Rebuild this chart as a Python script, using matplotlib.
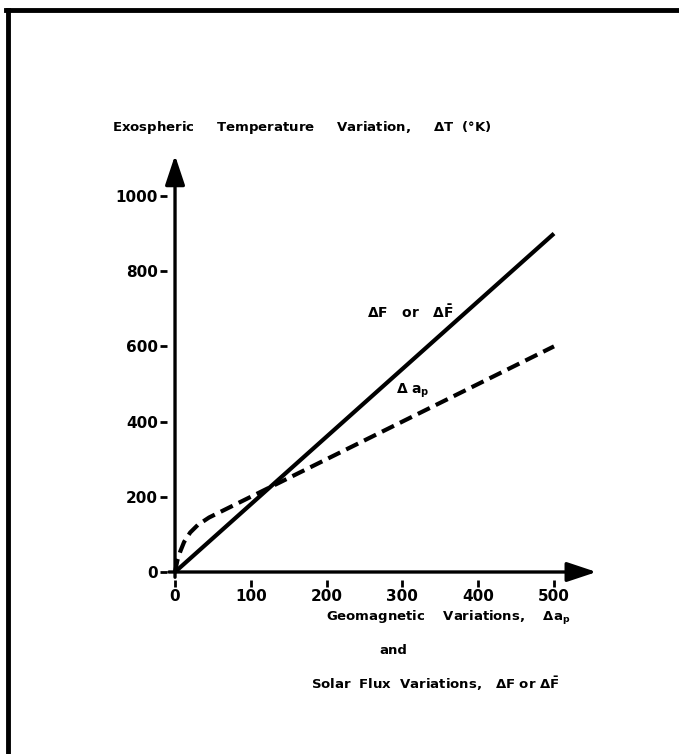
import matplotlib
matplotlib.use('Agg')
import matplotlib.pyplot as plt
from matplotlib.lines import Line2D

plt.rcParams['mathtext.fontset'] = 'dejavusans'

# solar flux curve (Delta F or Delta F-bar)
flux_x = [0, 500]
flux_y = [0, 900]

# geomagnetic curve (Delta a_p)
geo_x = [0, 3, 7, 12, 20, 30, 45, 70, 100, 200, 300, 400, 500]
geo_y = [0, 30, 55, 80, 105, 125, 145, 170, 200, 300, 400, 500, 600]

xticks = [0, 100, 200, 300, 400, 500]
yticks = [0, 200, 400, 600, 800, 1000]

fig = plt.figure(figsize=(6.79, 7.54), dpi=100)
ax = fig.add_axes([0.2466, 0.2314, 0.6363, 0.5636])
ax.set_xlim(-10, 560)
ax.set_ylim(-20, 1110)

for s in ax.spines.values():
    s.set_visible(False)

# axes drawn as arrows
arr = dict(arrowstyle='-|>,head_length=0.9,head_width=0.3', lw=2.4, color='black',
           mutation_scale=20, shrinkA=0, shrinkB=0)
ax.annotate('', xy=(0, 1108), xytext=(0, -14), arrowprops=arr)
ax.annotate('', xy=(556, 0), xytext=(-8, 0), arrowprops=arr)

ax.plot(flux_x, flux_y, color='black', lw=3.0, solid_capstyle='butt')
ax.plot(geo_x, geo_y, color='black', lw=3.0, dashes=(3.2, 1.6))

ax.set_xticks(xticks)
ax.set_yticks(yticks)
ax.tick_params(direction='out', length=5, width=2, labelsize=11, pad=2)
for lab in ax.get_xticklabels() + ax.get_yticklabels():
    lab.set_fontweight('bold')

ax.text(310, 690, r'$\mathbf{\Delta F}$   or   $\mathbf{\Delta\bar{F}}$',
        fontsize=10, fontweight='bold', ha='center', va='center')
ax.text(313, 482, r'$\mathbf{\Delta\ a_p}$', fontsize=10,
        fontweight='bold', ha='center', va='center')

fig.text(112 / 679, 1 - 128 / 754,
         r'Exospheric     Temperature     Variation,     $\mathbf{\Delta}$T  (°K)',
         fontsize=9.5, fontweight='bold', ha='left', va='center')
fig.text(448 / 679, 1 - 618 / 754,
         r'Geomagnetic    Variations,    $\mathbf{\Delta a_p}$',
         fontsize=9.5, fontweight='bold', ha='center', va='center')
fig.text(393 / 679, 1 - 650 / 754, 'and',
         fontsize=9.5, fontweight='bold', ha='center', va='center')
fig.text(435 / 679, 1 - 684 / 754,
         r'Solar  Flux  Variations,   $\mathbf{\Delta F}$ or $\mathbf{\Delta\bar{F}}$',
         fontsize=9.5, fontweight='bold', ha='center', va='center')

# scanned page border (top and left edges)
fig.add_artist(Line2D([6 / 679, 1], [1 - 10 / 754, 1 - 10 / 754],
                      transform=fig.transFigure, color='black', lw=3.5))
fig.add_artist(Line2D([8 / 679, 8 / 679], [0, 1 - 10 / 754],
                      transform=fig.transFigure, color='black', lw=3.5))

fig.savefig('out.png', dpi=100)
